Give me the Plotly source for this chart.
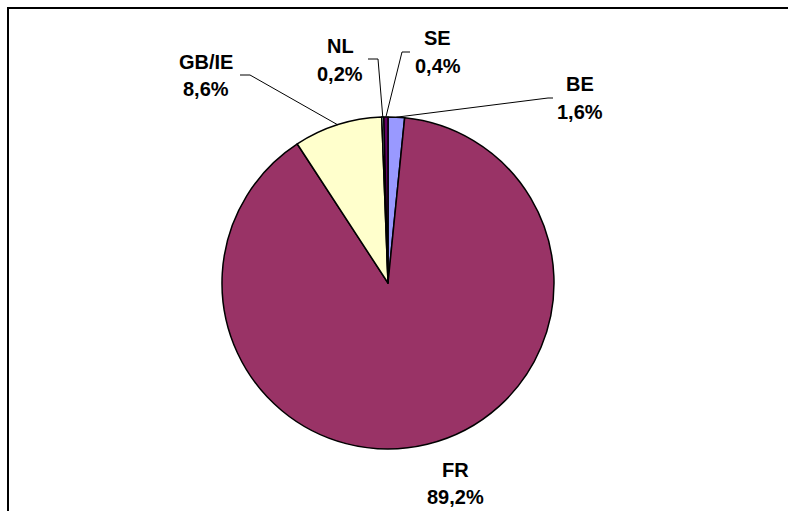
import math

import plotly.graph_objects as go

# data
countries = ["BE", "FR", "GB/IE", "NL", "SE"]
shares = [1.6, 89.2, 8.6, 0.2, 0.4]
colors = ["#9999FF", "#993366", "#FFFFCC", "#CCFFFF", "#660066"]

W, H = 788, 511
CX, CY, R = 388, 283, 166

# label anchor: (x centre, baseline of percent line) in pixels
label_pos = {
    "BE": (580, 118),
    "FR": (455, 503),
    "GB/IE": (206, 95),
    "NL": (340, 80),
    "SE": (438, 72),
}
# leader lines: (start x, elbow x, y) in pixels; FR has none
leader = {
    "BE": (553, 548, 98),
    "GB/IE": (240, 250, 75),
    "NL": (368, 378, 59),
    "SE": (410, 402, 52),
}

FONT = dict(family="Liberation Sans, Arial, sans-serif", size=20, color="black", weight="bold")


def px(x):
    return x / W


def py(y):
    return 1 - y / H


fig = go.Figure(
    go.Pie(
        labels=countries,
        values=shares,
        sort=False,
        direction="clockwise",
        rotation=0,
        marker=dict(colors=colors, line=dict(color="black", width=1.5)),
        textinfo="none",
        hoverinfo="label+percent",
        showlegend=False,
        domain=dict(x=[px(CX - R), px(CX + R)], y=[py(CY + R), py(CY - R)]),
    )
)

total = sum(shares)
cum = 0.0
annotations = []
shapes = []
for name, val in zip(countries, shares):
    mid = (cum + val / 2) / total * 2 * math.pi
    cum += val
    ex = CX + R * math.sin(mid)
    ey = CY - R * math.cos(mid)
    lx, base = label_pos[name]
    pct = f"{val:.1f}%".replace(".", ",")
    for txt, yb in ((name, base - 27.5), (pct, base)):
        annotations.append(dict(x=px(lx), y=py(yb - 6), xref="paper", yref="paper",
                                xanchor="center", yanchor="middle",
                                text=txt, showarrow=False, font=FONT))
    if name in leader:
        sx, kx, ly = leader[name]
        shapes.append(dict(
            type="path", xref="paper", yref="paper",
            path=f"M {px(sx)},{py(ly)} L {px(kx)},{py(ly)} L {px(ex)},{py(ey)}",
            line=dict(color="black", width=1),
        ))

# chart frame, running off the bottom and right edge
shapes.append(dict(type="rect", xref="paper", yref="paper",
                   x0=px(8), y0=-0.05, x1=1.05, y1=py(8),
                   line=dict(color="black", width=2)))

fig.update_layout(
    width=W,
    height=H,
    margin=dict(l=0, r=0, t=0, b=0),
    paper_bgcolor="white",
    plot_bgcolor="white",
    annotations=annotations,
    shapes=shapes,
)

fig.write_html("out.html", config={"displayModeBar": False},
               post_script="document.body.style.margin = '0';")
